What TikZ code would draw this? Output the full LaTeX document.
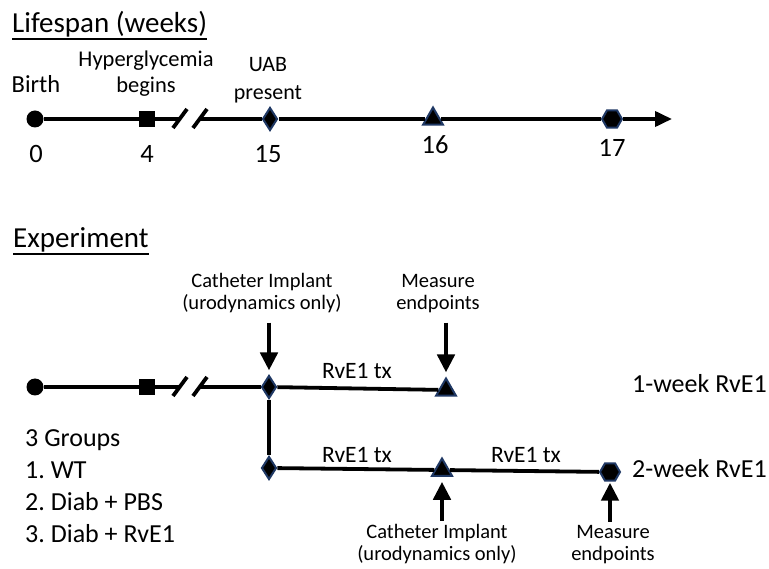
\documentclass[tikz,border=0pt]{standalone}
\usepackage{fontspec}
\setmainfont{Carlito}
\frenchspacing
\usetikzlibrary{arrows.meta, positioning, shapes.geometric}
\definecolor{mknavy}{RGB}{31,56,100}

\begin{document}
\begin{tikzpicture}[
    x=1pt, y=-1pt,
    headline/.style={inner sep=0pt, anchor=base west, font=\fontsize{29}{35}\selectfont},
    uline/.style={line width=1.8pt},
    numlbl/.style={inner sep=0pt, anchor=base, font=\fontsize{26.5}{32}\selectfont},
    evlbl/.style={inner sep=0pt, anchor=base, align=center, font=\fontsize{22.5}{26}\selectfont},
    note/.style={inner sep=0pt, anchor=base, align=center, font=\fontsize{20.5}{22}\selectfont},
    txlbl/.style={inner sep=0pt, anchor=base, font=\fontsize{23.5}{28}\selectfont},
    armlbl/.style={inner sep=0pt, anchor=base west, font=\fontsize{26}{31.7}\selectfont},
    grplbl/.style={inner sep=0pt, anchor=base west, align=left, font=\fontsize{26}{31.7}\selectfont},
    dot/.style={circle, fill=black, inner sep=0pt, minimum size=17pt},
    sq/.style={rectangle, fill=black, inner sep=0pt, minimum size=16pt},
    dia/.style={diamond, fill=black, draw=mknavy, line width=2pt, inner sep=0pt, outer sep=1pt, minimum width=15pt, minimum height=23pt},
    tri/.style={regular polygon, regular polygon sides=3, fill=black, draw=mknavy, line width=2pt, inner sep=0pt, outer sep=1pt, minimum size=23pt},
    hexa/.style={regular polygon, regular polygon sides=6, fill=black, draw=mknavy, line width=2pt, inner sep=0pt, outer sep=1pt, minimum size=20pt},
    tl/.style={line width=3.8pt},
    arrow/.style={line width=4.5pt, -{Triangle[width=17pt, length=18pt]}}
]
\useasboundingbox (0,0) rectangle (769,569);

% Lifespan timeline
\node[headline] (life) at (12,33) {Lifespan (weeks)};
\draw[uline] ([yshift=-6pt]life.base west) -- ([yshift=-6pt]life.base east);

\node[dot] (birth) at (35,119) {};
\node[sq] (hg) at (147,119) {};
\coordinate (gapL) at (180,119);
\coordinate (gapR) at (200,119);
\node[dia] (uab) at (270,119) {};
\node[tri] (w16) at (433,119) {};
\node[hexa] (w17) at (612,119) {};
\coordinate (tlend) at (672,119);

\node[numlbl, font=\fontsize{24.5}{30}\selectfont] (birthlbl) at (36,93) {Birth};
\node[evlbl] (hglbl) at (146,93) {Hyperglycemia\\begins};
\node[evlbl, font=\fontsize{22}{28}\selectfont] (uablbl) at (268,100) {UAB\\present};

\node[numlbl] (n0) at (36,163) {0};
\node[numlbl] (n4) at (147,163) {4};
\node[numlbl] (n15) at (268,163) {15};
\node[numlbl] (n16) at (435,154) {16};
\node[numlbl] (n17) at (612,157) {17};

\draw[tl] (birth) -- (hg);
\draw[tl] (hg) -- (gapL);
\draw[tl] ([shift={(-7,9)}]gapL) -- ++(14,-19);
\draw[tl] ([shift={(-7,9)}]gapR) -- ++(14,-19);
\draw[tl] (gapR) -- (uab);
\draw[tl] (uab) -- (w16);
\draw[tl] (w16) -- (w17);
\draw[tl, -{Triangle[width=15pt, length=17pt]}] (w17) -- (tlend);

% Experiment timeline
\node[headline] (expt) at (13,248) {Experiment};
\draw[uline] ([yshift=-6pt]expt.base west) -- ([yshift=-6pt]expt.base east);

\node[dot] (birthB) at (35,387) {};
\node[sq] (hgB) at (147,387) {};
\coordinate (gapBL) at (180,387);
\coordinate (gapBR) at (200,387);
\node[dia] (d1) at (269,387) {};
\node[tri] (t1) at (446,390) {};
\node[dia] (d2) at (269,468) {};
\node[tri] (t2) at (442,470) {};
\node[hexa] (hx2) at (610,472) {};

\node[note] (cath1) at (262,310) {Catheter Implant\\(urodynamics only)};
\node[note] (meas1) at (438,310) {Measure\\endpoints};
\node[note] (cath2) at (437,560) {Catheter Implant\\(urodynamics only)};
\node[note] (meas2) at (613,560) {Measure\\endpoints};

\node[txlbl] (tx1) at (357,379) {RvE1 tx};
\node[txlbl] (tx2) at (357,462) {RvE1 tx};
\node[txlbl] (tx3) at (526,462) {RvE1 tx};

\node[armlbl] (arm1) at (632,393) {1-week RvE1};
\node[armlbl] (arm2) at (632,478) {2-week RvE1};

\node[grplbl] (groups) at (25,542) {3 Groups\\1. WT\\2. Diab + PBS\\3. Diab + RvE1};

\draw[tl] (birthB) -- (hgB);
\draw[tl] (hgB) -- (gapBL);
\draw[tl] ([shift={(-7,9)}]gapBL) -- ++(14,-19);
\draw[tl] ([shift={(-7,9)}]gapBR) -- ++(14,-19);
\draw[tl] (gapBR) -- (d1);
\draw[tl] (d1) -- (t1);
\draw[tl] (d1) -- (d2);
\draw[tl] (d2) -- (t2);
\draw[tl] (t2) -- (hx2);

% Arrows
\draw[arrow, shorten <=9pt, shorten >=4pt] (cath1.south -| d1) -- (d1);
\draw[arrow, shorten <=9pt, shorten >=4pt] (meas1.south -| t1) -- (t1);
\draw[arrow, shorten <=3pt, shorten >=5pt] (cath2.north -| t2) -- (t2);
\draw[arrow, shorten <=3pt, shorten >=1pt] (meas2.north -| hx2) -- (hx2);

\end{tikzpicture}
\end{document}
